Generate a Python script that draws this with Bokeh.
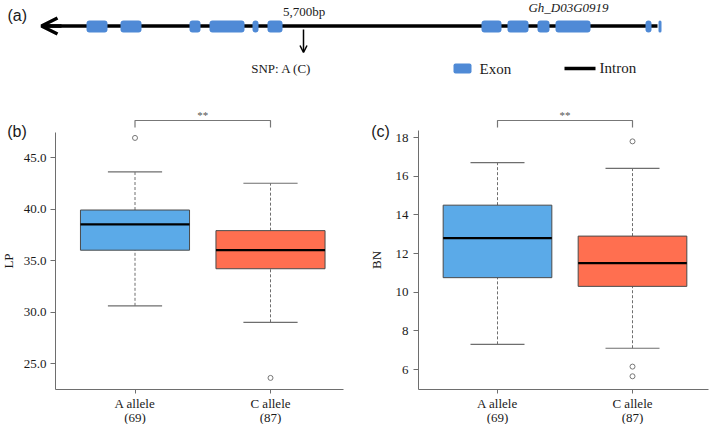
import math
from bokeh.plotting import figure
from bokeh.models import Range1d, Label, Arrow, OpenHead, FixedTicker, PrintfTickFormatter
from bokeh.layouts import row, column
from bokeh.embed import file_html
from bokeh.resources import INLINE

# ---------------- data ----------------
groups = ["A allele", "C allele"]
group_n = [69, 87]
group_pos = [1, 2]
box_colors = ["#5baae8", "#ff6f50"]

# LP (panel b)
lp_low = [30.6, 29.0]
lp_q1 = [36.0, 34.2]
lp_med = [38.5, 36.0]
lp_q3 = [39.9, 37.9]
lp_high = [43.6, 42.5]
lp_out_x = [1, 2]
lp_out_y = [46.9, 23.6]
lp_ticks = [25, 30, 35, 40, 45]

# BN (panel c)
bn_low = [7.3, 7.1]
bn_q1 = [10.75, 10.3]
bn_med = [12.8, 11.5]
bn_q3 = [14.5, 12.9]
bn_high = [16.7, 16.4]
bn_out_x = [2, 2, 2]
bn_out_y = [17.8, 6.15, 5.65]
bn_ticks = [6, 8, 10, 12, 14, 16, 18]

# gene model (panel a), track coordinates
exon_start = [86, 120, 189, 209, 252, 267, 481, 507, 537, 555, 645, 658]
exon_end = [107, 141, 200, 244, 258, 282, 501, 528, 549, 590, 651, 661]
gene_left = 41
gene_right = 657
snp_pos = 303
snp_label = "5,700bp"
gene_name = "Gh_D03G0919"

SERIF = "Liberation Serif"
SANS = "Liberation Sans"
EXON_BLUE = "#4f8ad6"
GRAY = "#6e6e6e"
TXT = "#1a1a1a"


def lab(p, x, y, text, size="13px", font=SERIF, align="center", style="normal", color=TXT, angle=0):
    p.add_layout(Label(x=x, y=y, text=text, text_font=font, text_font_size=size,
                       text_align=align, text_baseline="middle", text_font_style=style,
                       text_color=color, angle=angle))


# ---------------- panel (a) ----------------
pa = figure(width=709, height=87, x_range=Range1d(0, 709), y_range=Range1d(87, 0),
            min_border=0, x_axis_location=None, y_axis_location=None,
            output_backend="svg", toolbar_location=None)
pa.grid.visible = False
pa.outline_line_color = None

pa.segment(x0=[gene_right], y0=[25.5], x1=[gene_left + 3], y1=[25.5], line_width=3.5, line_color="black")
pa.add_layout(Arrow(end=OpenHead(size=16, line_width=3.5, line_color="black"),
                    x_start=gene_left + 20, y_start=25.5, x_end=gene_left, y_end=25.5,
                    line_width=3.5, line_color="black"))
pa.quad(left=exon_start, right=exon_end, top=20, bottom=32, fill_color=EXON_BLUE,
        line_color=None, border_radius=3)
pa.add_layout(Arrow(end=OpenHead(size=7, line_width=1.5, line_color="black"),
                    x_start=snp_pos, y_start=29, x_end=snp_pos, y_end=52,
                    line_width=1.5, line_color="black"))

lab(pa, 7, 14.5, "(a)", size="16px", font=SANS, align="left")
lab(pa, snp_pos + 0.5, 10.5, snp_label)
lab(pa, snp_pos - 22, 68, "SNP: A (C)")
lab(pa, 568, 7, gene_name, style="italic")
# legend
pa.quad(left=[453], right=[471], top=[63], bottom=[73], fill_color=EXON_BLUE, line_color=None, border_radius=2)
lab(pa, 479, 68, "Exon", size="15px", align="left")
pa.segment(x0=[564], y0=[68], x1=[595], y1=[68], line_width=3.5, line_color="black")
lab(pa, 599, 67, "Intron", size="15px", align="left")


# ---------------- box panels ----------------
def box_panel(L, W, c1, pxu, yref, ypx_ref, pyu, frame_left, frame_right,
              low, q1, med, q3, high, out_x, out_y, ticks, fmt, std, axis_top_px,
              panel_tag, tag_x_px, ylabel, ylab_std):
    T, H = 87, 337
    fx = lambda px: 1 + (px - c1) / pxu
    fy = lambda py: yref + (ypx_ref - py) / pyu

    p = figure(width=W, height=H, x_range=Range1d(fx(L), fx(L + W)), y_range=Range1d(fy(T + H), fy(T)),
               min_border=0, output_backend="svg", toolbar_location=None)
    p.grid.visible = False
    p.outline_line_color = None

    xa = p.xaxis[0]
    xa.fixed_location = fy(389)
    xa.bounds = (fx(frame_left), fx(frame_right))
    xa.ticker = FixedTicker(ticks=group_pos)
    xa.major_label_overrides = {g: name for g, name in zip(group_pos, groups)}
    xa.major_label_text_font = SERIF
    xa.major_label_text_font_size = "13px"
    xa.major_label_text_color = TXT
    xa.major_label_standoff = 2
    xa.axis_line_color = GRAY
    xa.major_tick_line_color = GRAY
    xa.major_tick_out = 4
    xa.major_tick_in = 0
    xa.minor_tick_line_color = None

    ya = p.yaxis[0]
    ya.fixed_location = fx(frame_left)
    ya.bounds = (fy(389), fy(axis_top_px))
    ya.ticker = FixedTicker(ticks=ticks)
    if fmt:
        ya.formatter = PrintfTickFormatter(format=fmt)
    ya.axis_line_color = GRAY
    ya.major_tick_line_color = GRAY
    ya.major_tick_out = 5
    ya.major_tick_in = 0
    ya.minor_tick_line_color = None
    ya.major_label_standoff = std
    ya.major_label_text_font = SERIF
    ya.major_label_text_font_size = "13px"
    ya.major_label_text_color = TXT
    ya.axis_label = ylabel
    ya.axis_label_text_font = SERIF
    ya.axis_label_text_font_size = "13px"
    ya.axis_label_text_font_style = "normal"
    ya.axis_label_text_color = TXT
    ya.axis_label_standoff = ylab_std

    bw, cw = 0.805, 0.4
    # whiskers
    p.segment(x0=group_pos, y0=q3, x1=group_pos, y1=high, line_color=GRAY, line_dash="3 2", line_width=1)
    p.segment(x0=group_pos, y0=low, x1=group_pos, y1=q1, line_color=GRAY, line_dash="3 2", line_width=1)
    p.segment(x0=[g - cw / 2 for g in group_pos], y0=high, x1=[g + cw / 2 for g in group_pos], y1=high,
              line_color=GRAY, line_width=1.2)
    p.segment(x0=[g - cw / 2 for g in group_pos], y0=low, x1=[g + cw / 2 for g in group_pos], y1=low,
              line_color=GRAY, line_width=1.2)
    # boxes
    p.vbar(x=group_pos, bottom=q1, top=q3, width=bw, fill_color=box_colors, line_color="#4a4a4a", line_width=1)
    p.segment(x0=[g - bw / 2 for g in group_pos], y0=med, x1=[g + bw / 2 for g in group_pos], y1=med,
              line_color="black", line_width=2.2)
    # outliers
    p.scatter(x=out_x, y=out_y, marker="circle", size=5, fill_color=None, line_color="#777777", line_width=1)

    # significance bracket
    p.multi_line(xs=[[group_pos[0], group_pos[0], group_pos[1], group_pos[1]]],
                 ys=[[fy(127), fy(120), fy(120), fy(127)]], line_color="#777777", line_width=1.2)
    lab(p, (group_pos[0] + group_pos[1]) / 2, fy(114), "**", size="11px", color="#555555")

    # panel tag and group sizes
    lab(p, fx(tag_x_px), fy(131), panel_tag, size="16px", font=SANS)
    for g, n in zip(group_pos, group_n):
        lab(p, g, fy(416.5), f"({n})")
    return p


pb = box_panel(L=0, W=360, c1=134.5, pxu=135.5, yref=25, ypx_ref=363, pyu=10.3,
               frame_left=55, frame_right=343,
               low=lp_low, q1=lp_q1, med=lp_med, q3=lp_q3, high=lp_high,
               out_x=lp_out_x, out_y=lp_out_y, ticks=lp_ticks, fmt="%.1f", std=4,
               axis_top_px=132, panel_tag="(b)", tag_x_px=16.5, ylabel="LP", ylab_std=5)

pc = box_panel(L=360, W=349, c1=497, pxu=135, yref=6, ypx_ref=369, pyu=19.333,
               frame_left=418, frame_right=708,
               low=bn_low, q1=bn_q1, med=bn_med, q3=bn_q3, high=bn_high,
               out_x=bn_out_x, out_y=bn_out_y, ticks=bn_ticks, fmt=None, std=5,
               axis_top_px=130, panel_tag="(c)", tag_x_px=380, ylabel="BN", ylab_std=9)

layout = column(pa, row(pb, pc, spacing=0), spacing=0)

with open("out.html", "w") as f:
    f.write(file_html(layout, INLINE))
